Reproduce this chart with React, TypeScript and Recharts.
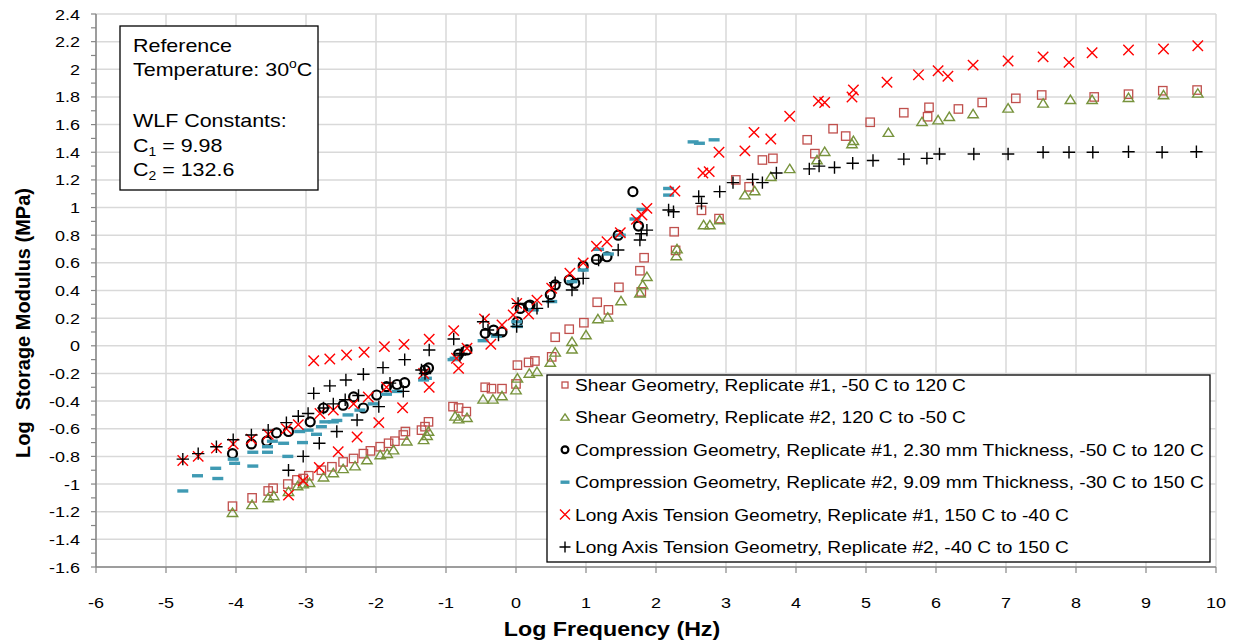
import React from "react";
import { ScatterChart, Scatter, XAxis, YAxis, CartesianGrid } from "recharts";

// tick values
const xTicks = [-6, -5, -4, -3, -2, -1, 0, 1, 2, 3, 4, 5, 6, 7, 8, 9, 10];
const yMajorTicks = [-1.6, -1.4, -1.2, -1, -0.8, -0.6, -0.4, -0.2, 0, 0.2, 0.4, 0.6, 0.8, 1, 1.2, 1.4, 1.6, 1.8, 2, 2.2, 2.4];
const yAllTicks = [
  -1.6, -1.5, -1.4, -1.3, -1.2, -1.1, -1, -0.9, -0.8, -0.7, -0.6, -0.5, -0.4, -0.3, -0.2, -0.1, 0,
  0.1, 0.2, 0.3, 0.4, 0.5, 0.6, 0.7, 0.8, 0.9, 1, 1.1, 1.2, 1.3, 1.4, 1.5, 1.6, 1.7, 1.8, 1.9, 2,
  2.1, 2.2, 2.3, 2.4,
];

// series: [log frequency, log storage modulus]
const shearRep1: [number, number][] = [
  [-4.05, -1.16], [-3.77, -1.1], [-3.54, -1.05], [-3.47, -1.03], [-3.26, -1.0], [-3.13, -0.97],
  [-3.04, -0.96], [-2.96, -0.94], [-2.78, -0.9], [-2.63, -0.875], [-2.47, -0.84], [-2.32, -0.815],
  [-2.18, -0.78], [-2.08, -0.76], [-1.94, -0.73], [-1.82, -0.705], [-1.73, -0.69], [-1.61, -0.645],
  [-1.58, -0.62], [-1.35, -0.61], [-1.3, -0.585], [-1.25, -0.55], [-0.9, -0.44], [-0.82, -0.45],
  [-0.71, -0.476], [-0.44, -0.3], [-0.35, -0.31], [-0.2, -0.31], [0.0, -0.276], [0.02, -0.14],
  [0.18, -0.12], [0.27, -0.11], [0.51, -0.08], [0.56, 0.062], [0.76, 0.12], [0.97, 0.167],
  [1.16, 0.315], [1.32, 0.26], [1.47, 0.423], [1.77, 0.543], [1.79, 0.39], [1.83, 0.637],
  [2.26, 0.825], [2.28, 0.69], [2.65, 0.98], [2.9, 0.92], [3.14, 1.2], [3.33, 1.15], [3.52, 1.344],
  [3.67, 1.356], [4.16, 1.49], [4.27, 1.39], [4.53, 1.57], [4.71, 1.517], [5.06, 1.617],
  [5.54, 1.686], [5.88, 1.657], [5.9, 1.725], [6.32, 1.713], [6.66, 1.76], [7.14, 1.79],
  [7.51, 1.814], [8.26, 1.8], [8.75, 1.82], [9.24, 1.845], [9.73, 1.85],
];

const shearRep2: [number, number][] = [
  [-4.05, -1.207], [-3.77, -1.15], [-3.54, -1.1], [-3.46, -1.086], [-3.25, -1.055], [-3.12, -1.014],
  [-3.04, -1.0], [-2.95, -0.99], [-2.75, -0.95], [-2.61, -0.92], [-2.47, -0.89], [-2.3, -0.87],
  [-2.13, -0.826], [-1.94, -0.79], [-1.84, -0.78], [-1.75, -0.754], [-1.56, -0.69], [-1.32, -0.68],
  [-1.27, -0.65], [-1.25, -0.62], [-0.87, -0.51], [-0.82, -0.53], [-0.7, -0.52], [-0.47, -0.387],
  [-0.33, -0.387], [-0.2, -0.363], [0.0, -0.32], [0.02, -0.235], [0.19, -0.2], [0.3, -0.187],
  [0.49, -0.12], [0.56, -0.047], [0.8, 0.03], [0.8, -0.025], [1.0, 0.078], [1.17, 0.194],
  [1.31, 0.206], [1.5, 0.324], [1.77, 0.38], [1.81, 0.44], [1.87, 0.5], [2.29, 0.65], [2.3, 0.7],
  [2.68, 0.874], [2.77, 0.874], [2.91, 0.91], [3.27, 1.09], [3.41, 1.12], [3.64, 1.223],
  [3.91, 1.28], [4.3, 1.344], [4.41, 1.404], [4.8, 1.46], [4.82, 1.484], [5.32, 1.542],
  [5.8, 1.62], [6.03, 1.633], [6.19, 1.657], [6.53, 1.677], [7.03, 1.718], [7.53, 1.754],
  [7.92, 1.78], [8.23, 1.78], [8.75, 1.795], [9.25, 1.814], [9.74, 1.826],
];

const compRep1: [number, number][] = [
  [-4.05, -0.78], [-3.78, -0.71], [-3.56, -0.69], [-3.42, -0.63], [-3.25, -0.62], [-2.94, -0.55],
  [-2.75, -0.45], [-2.47, -0.43], [-2.32, -0.37], [-2.18, -0.45], [-1.99, -0.356], [-1.85, -0.296],
  [-1.7, -0.28], [-1.59, -0.267], [-1.3, -0.175], [-1.25, -0.16], [-0.82, -0.06], [-0.7, -0.03],
  [-0.44, 0.09], [-0.32, 0.114], [-0.2, 0.1], [0.02, 0.174], [0.06, 0.27], [0.18, 0.288],
  [0.2, 0.295], [0.49, 0.37], [0.56, 0.44], [0.76, 0.476], [0.84, 0.452], [0.96, 0.577],
  [1.15, 0.625], [1.3, 0.644], [1.46, 0.8], [1.67, 1.115], [1.75, 0.866],
];

const compRep2: [number, number][] = [
  [-4.76, -1.05], [-4.55, -0.94], [-4.29, -0.886], [-4.26, -0.96], [-4.04, -0.82], [-4.02, -0.85],
  [-3.76, -0.77], [-3.76, -0.87], [-3.55, -0.73], [-3.55, -0.77], [-3.48, -0.69], [-3.32, -0.705],
  [-3.26, -0.8], [-3.09, -0.62], [-3.05, -0.7], [-2.97, -0.61], [-2.85, -0.64], [-2.78, -0.585],
  [-2.73, -0.55], [-2.61, -0.55], [-2.56, -0.54], [-2.4, -0.5], [-2.23, -0.465], [-2.04, -0.42],
  [-1.85, -0.35], [-1.7, -0.33], [-1.32, -0.247], [-1.28, -0.235], [-0.9, -0.1], [-0.87, -0.09],
  [-0.47, 0.037], [-0.28, 0.07], [0.01, 0.174], [0.02, 0.14], [0.25, 0.26], [0.51, 0.32],
  [0.8, 0.464], [0.96, 0.548], [1.18, 0.698], [1.32, 0.664], [1.49, 0.8], [1.7, 0.917],
  [1.8, 0.986], [2.18, 1.09], [2.18, 1.138], [2.53, 1.475], [2.62, 1.465], [2.83, 1.49],
];

const tensionRep1: [number, number][] = [
  [-4.76, -0.83], [-4.54, -0.8], [-4.28, -0.74], [-4.04, -0.71], [-3.78, -0.675], [-3.54, -0.64],
  [-3.28, -0.6], [-3.11, -0.57], [-2.89, -0.108], [-2.66, -0.095], [-2.42, -0.067], [-2.17, -0.047],
  [-1.88, -0.006], [-1.6, 0.01], [-1.24, 0.047], [-0.89, 0.11], [-0.45, 0.195], [-3.25, -1.08],
  [-3.04, -0.976], [-2.81, -0.88], [-2.54, -0.766], [-2.27, -0.66], [-1.96, -0.556], [-1.62, -0.448],
  [-1.24, -0.3], [-0.82, -0.163], [-0.36, 0.011], [-2.8, -0.49], [-2.61, -0.465], [-2.32, -0.42],
  [-2.11, -0.37], [-1.85, -0.3], [-1.32, -0.2], [-0.85, -0.09], [-0.7, -0.018], [-0.2, 0.15],
  [-0.04, 0.223], [0.01, 0.307], [0.18, 0.23], [0.3, 0.33], [0.51, 0.416], [0.77, 0.525],
  [0.96, 0.6], [1.15, 0.72], [1.3, 0.753], [1.49, 0.818], [1.72, 0.915], [1.8, 0.946],
  [1.87, 0.994], [2.27, 1.12], [2.67, 1.25], [2.76, 1.26], [2.9, 1.4], [3.27, 1.41], [3.4, 1.544],
  [3.64, 1.496], [3.91, 1.66], [4.32, 1.77], [4.41, 1.76], [4.8, 1.8], [4.82, 1.85], [5.3, 1.906],
  [5.75, 1.96], [6.03, 1.99], [6.17, 1.95], [6.53, 2.03], [7.03, 2.06], [7.53, 2.09], [7.9, 2.05],
  [8.23, 2.12], [8.75, 2.14], [9.25, 2.147], [9.74, 2.17],
];

const tensionRep2: [number, number][] = [
  [-4.76, -0.82], [-4.54, -0.78], [-4.28, -0.73], [-4.04, -0.68], [-3.78, -0.645], [-3.54, -0.61],
  [-3.28, -0.556], [-3.11, -0.51], [-2.97, -0.49], [-2.75, -0.45], [-2.61, -0.42], [-2.44, -0.39],
  [-2.25, -0.36], [-1.8, -0.27], [-1.35, -0.175], [-0.78, -0.055], [-0.25, 0.078], [0.01, 0.14],
  [0.3, 0.271], [0.46, 0.32], [0.8, 0.404], [0.96, 0.488], [1.18, 0.62], [1.46, 0.693],
  [1.77, 0.765], [1.79, 0.81], [1.87, 0.837], [2.18, 0.982], [2.25, 0.97],
  [-2.89, -0.344], [-2.66, -0.29], [-2.43, -0.247], [-2.18, -0.206], [-1.9, -0.158], [-1.59, -0.1],
  [-1.24, -0.03], [-0.89, 0.049], [-0.47, 0.174], [0.03, 0.307], [0.56, 0.457],
  [-3.25, -0.9], [-3.04, -0.8], [-2.81, -0.705], [-2.56, -0.62], [-2.27, -0.537], [-1.96, -0.44],
  [-1.61, -0.33], [-1.3, -0.2], [-0.8, -0.067], [-0.4, 0.114],
  [2.61, 1.08], [2.65, 1.03], [2.91, 1.115], [3.1, 1.18], [3.38, 1.204], [3.52, 1.18], [3.72, 1.25],
  [4.19, 1.28], [4.33, 1.3], [4.55, 1.29], [4.81, 1.32], [5.1, 1.34], [5.54, 1.35], [5.87, 1.356],
  [6.05, 1.387], [6.54, 1.387], [7.03, 1.387], [7.53, 1.4], [7.9, 1.4], [8.24, 1.4], [8.75, 1.404],
  [9.23, 1.4], [9.72, 1.404],
];

const legendLabels = [
  "Shear Geometry, Replicate #1, -50 C to 120 C",
  "Shear Geometry, Replicate #2, 120 C to -50 C",
  "Compression Geometry, Replicate #1, 2.30 mm Thickness, -50 C to 120 C",
  "Compression Geometry, Replicate #2, 9.09 mm Thickness, -30 C to 150 C",
  "Long Axis Tension Geometry, Replicate #1, 150 C to -40 C",
  "Long Axis Tension Geometry, Replicate #2, -40 C to 150 C",
];

const FONT = "'Liberation Sans', Arial, sans-serif";
const SX = 1.16; // horizontal stretch of the source text
const colors = {
  shear1: "#C0504D",
  shear2: "#77933C",
  comp1: "#000000",
  comp2: "#3F9AB3",
  tens1: "#FF0000",
  tens2: "#000000",
  grid: "#D9D9D9",
  axis: "#868686",
};

const toPts = (arr: [number, number][]) => arr.map(([x, y]) => ({ x, y }));

// marker shapes
const square = (cx: number, cy: number, s = 4.2) => (
  <rect x={cx - s} y={cy - s} width={s * 2} height={s * 2} fill="none" stroke={colors.shear1} strokeWidth={1.3} />
);
const triangle = (cx: number, cy: number, s = 4.6) => (
  <path d={`M${cx},${cy - s}L${cx + s + 0.6},${cy + s - 0.8}L${cx - s - 0.6},${cy + s - 0.8}Z`} fill="none" stroke={colors.shear2} strokeWidth={1.4} />
);
const circle = (cx: number, cy: number, r = 4.5) => (
  <circle cx={cx} cy={cy} r={r} fill="none" stroke={colors.comp1} strokeWidth={2.2} />
);
const dash = (cx: number, cy: number, s = 5.5) => (
  <line x1={cx - s} x2={cx + s} y1={cy} y2={cy} stroke={colors.comp2} strokeWidth={3.4} />
);
const cross = (cx: number, cy: number, s = 5.2) => (
  <path d={`M${cx - s},${cy - s}L${cx + s},${cy + s}M${cx + s},${cy - s}L${cx - s},${cy + s}`} stroke={colors.tens1} strokeWidth={1.4} />
);
const plus = (cx: number, cy: number, s = 6.2) => (
  <path d={`M${cx - s},${cy}L${cx + s},${cy}M${cx},${cy - s}L${cx},${cy + s}`} stroke={colors.tens2} strokeWidth={1.4} />
);

const legendMarkers = [
  (cx: number, cy: number) => square(cx, cy, 3),
  (cx: number, cy: number) => triangle(cx, cy, 3.5),
  (cx: number, cy: number) => circle(cx, cy, 3.4),
  (cx: number, cy: number) => dash(cx, cy, 4.5),
  (cx: number, cy: number) => cross(cx, cy, 5),
  (cx: number, cy: number) => plus(cx, cy, 5.5),
];

const XTick = ({ x, y, payload }: any) => (
  <g>
    <line x1={x} x2={x} y1={y} y2={y + 6} stroke={colors.axis} strokeWidth={1.2} />
    <text transform={`translate(${x},${y + 41}) scale(${SX},1)`} textAnchor="middle" fontSize={15.5} fontFamily={FONT} fill="#000">
      {payload.value}
    </text>
  </g>
);

const YTick = ({ x, y, payload }: any) => {
  const v = payload.value;
  const major = yMajorTicks.some((t) => Math.abs(t - v) < 1e-6);
  const label = Math.abs(v) < 1e-6 ? "0" : String(Math.round(v * 10) / 10);
  return (
    <g>
      <line x1={x - 5} x2={x} y1={y} y2={y} stroke={colors.axis} strokeWidth={1.2} />
      {major && (
        <text transform={`translate(${x - 16},${y + 5.5}) scale(${SX},1)`} textAnchor="end" fontSize={15.5} fontFamily={FONT} fill="#000">
          {label}
        </text>
      )}
    </g>
  );
};

export default function App() {
  const series = [
    { name: legendLabels[0], data: toPts(shearRep1), mk: square },
    { name: legendLabels[1], data: toPts(shearRep2), mk: triangle },
    { name: legendLabels[2], data: toPts(compRep1), mk: circle },
    { name: legendLabels[3], data: toPts(compRep2), mk: dash },
    { name: legendLabels[4], data: toPts(tensionRep1), mk: cross },
    { name: legendLabels[5], data: toPts(tensionRep2), mk: plus },
  ];

  return (
    <div style={{ position: "absolute", left: 0, top: 0, width: 1238, height: 642, background: "#fff" }}>
      <ScatterChart width={1238} height={642} margin={{ top: 14, right: 22, bottom: 0, left: 0 }}>
        <CartesianGrid stroke={colors.grid} strokeWidth={1.5} horizontalValues={yMajorTicks} verticalValues={xTicks} />
        <XAxis
          type="number"
          dataKey="x"
          domain={[-6, 10]}
          ticks={xTicks}
          interval={0}
          height={75}
          tickSize={0}
          tickMargin={0}
          tickLine={false}
          axisLine={{ stroke: colors.axis, strokeWidth: 1.5 }}
          tick={<XTick />}
          allowDataOverflow
        />
        <YAxis
          type="number"
          dataKey="y"
          domain={[-1.6, 2.4]}
          ticks={yAllTicks}
          interval={0}
          width={96}
          tickSize={0}
          tickMargin={0}
          tickLine={false}
          axisLine={{ stroke: colors.axis, strokeWidth: 1.5 }}
          tick={<YTick />}
          allowDataOverflow
        />
        {series.map((s) => (
          <Scatter
            key={s.name}
            name={s.name}
            data={s.data}
            isAnimationActive={false}
            shape={(p: any) => s.mk(p.cx, p.cy)}
          />
        ))}
      </ScatterChart>

      <svg width={1238} height={642} style={{ position: "absolute", left: 0, top: 0, pointerEvents: "none" }} fontFamily={FONT}>
        {/* axis titles */}
        <text transform={`translate(612,636) scale(${SX},1)`} textAnchor="middle" fontSize={20} fontWeight="bold" fill="#000">
          Log Frequency (Hz)
        </text>
        <text transform="translate(30,323) rotate(-90)" textAnchor="middle" fontSize={20} fontWeight="bold" fill="#000" style={{ whiteSpace: "pre" }}>
          {"Log  Storage Modulus (MPa)"}
        </text>

        {/* WLF text box */}
        <rect x={120} y={26} width={198} height={164} fill="#fff" stroke="#000" strokeWidth={1.3} />
        <g fontSize={18.5} fill="#000">
          <text transform={`translate(133,52) scale(${SX},1)`}>Reference</text>
          <text transform={`translate(133,76) scale(${SX},1)`}>
            Temperature: 30<tspan fontSize={12} dy={-8}>o</tspan><tspan dy={8}>C</tspan>
          </text>
          <text transform={`translate(133,127) scale(${SX},1)`}>WLF Constants:</text>
          <text transform={`translate(133,152) scale(${SX},1)`}>
            C<tspan fontSize={12} dy={4}>1</tspan><tspan dy={-4}> = 9.98</tspan>
          </text>
          <text transform={`translate(133,176) scale(${SX},1)`}>
            C<tspan fontSize={12} dy={4}>2</tspan><tspan dy={-4}> = 132.6</tspan>
          </text>
        </g>

        {/* legend */}
        <rect x={547} y={375} width={663} height={187} fill="#fff" stroke="#000" strokeWidth={1.3} />
        {legendLabels.map((lbl, i) => {
          const cy = 385 + i * 32.4;
          return (
            <g key={lbl}>
              {legendMarkers[i](565, cy)}
              <text transform={`translate(575,${cy + 6}) scale(${SX},1)`} fontSize={16.5} fill="#000">
                {lbl}
              </text>
            </g>
          );
        })}
      </svg>
    </div>
  );
}
